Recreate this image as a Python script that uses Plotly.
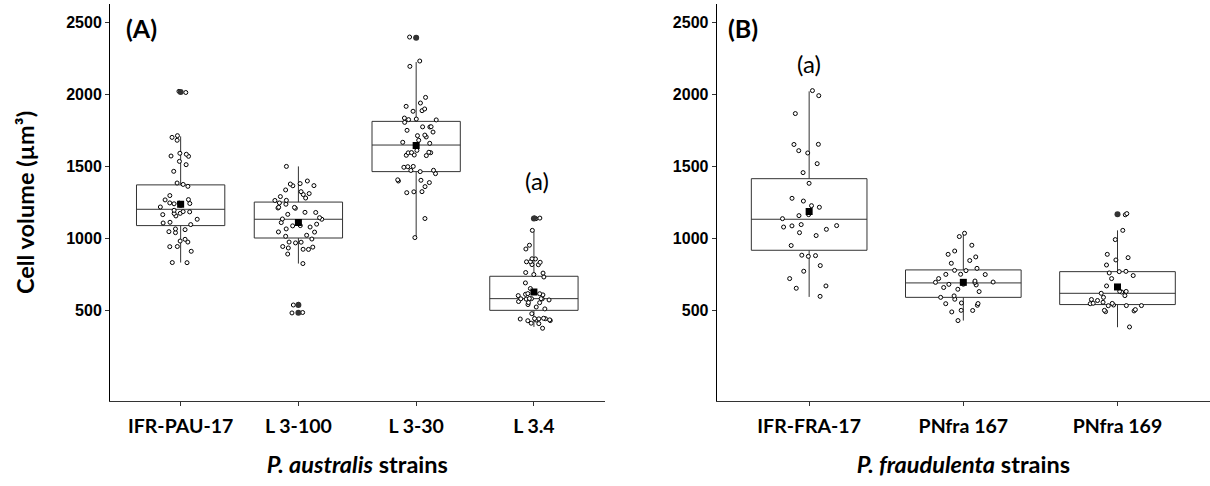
import plotly.graph_objects as go

# ---------------- data ----------------
cats_A = ["IFR-PAU-17", "L 3-100", "L 3-30", "L 3.4"]
cats_B = ["IFR-FRA-17", "PNfra 167", "PNfra 169"]

# box statistics
q1_A = [1090, 1004, 1464, 503]
med_A = [1203, 1134, 1648, 584]
q3_A = [1372, 1253, 1812, 739]
lo_A = [834, 827, 1007, 388]
hi_A = [1708, 1500, 2223, 1051]
mean_A = [1238, 1111, 1644, 630]

q1_B = [919, 593, 543]
med_B = [1134, 693, 621]
q3_B = [1415, 783, 771]
lo_B = [596, 432, 386]
hi_B = [2020, 1035, 1057]
mean_B = [1187, 697, 665]

# outliers
out_IFR_PAU_17 = [2015]
out_L3_100 = [540, 487]
out_L3_30 = [2392]
out_L3_4 = [1140]
out_IFR_FRA_17 = []
out_PNfra_167 = []
out_PNfra_169 = [1168]

# individual cells
pts_IFR_PAU_17 = [2020, 2012, 1713, 1701, 1681, 1591, 1584, 1570, 1572, 1535, 1512, 1466,
                  1385, 1375, 1362, 1298, 1270, 1268, 1247, 1243, 1246, 1241, 1230, 1219,
                  1196, 1187, 1185, 1175, 1174, 1166, 1157, 1134, 1113, 1108, 1097, 1067,
                  1062, 1048, 1041, 995, 983, 976, 945, 944, 912, 834, 833]
pts_L3_100 = [1500, 1399, 1381, 1378, 1367, 1366, 1337, 1325, 1312, 1305, 1291, 1281,
              1265, 1264, 1247, 1238, 1217, 1216, 1210, 1212, 1182, 1181, 1168, 1145,
              1136, 1134, 1111, 1100, 1090, 1088, 1080, 1067, 1046, 1045, 1023, 1016,
              997, 976, 970, 975, 945, 935, 941, 926, 925, 893, 827, 545, 540, 485, 488]
pts_L3_30 = [2396, 2392, 2230, 2193, 1978, 1939, 1916, 1898, 1886, 1882, 1835, 1828,
             1824, 1822, 1805, 1775, 1774, 1773, 1750, 1738, 1717, 1713, 1704, 1681,
             1667, 1660, 1611, 1596, 1595, 1594, 1598, 1579, 1577, 1575, 1500, 1498,
             1494, 1473, 1472, 1464, 1450, 1404, 1407, 1399, 1388, 1360, 1325, 1324,
             1318, 1139, 1007]
pts_L3_4 = [1143, 1142, 1138, 1057, 954, 928, 859, 860, 840, 839, 836, 820, 819, 765,
            761, 751, 734, 693, 654, 619, 618, 614, 610, 605, 584, 585, 583, 582, 581,
            584, 575, 564, 557, 556, 543, 526, 513, 480, 448, 446, 445, 444, 443, 436,
            437, 432, 431, 411, 414, 379]
pts_IFR_FRA_17 = [2025, 1990, 1866, 1653, 1652, 1609, 1593, 1519, 1457, 1383, 1279, 1260,
                  1228, 1217, 1166, 1159, 1138, 1097, 1090, 1088, 1080, 1064, 1041, 1021,
                  952, 882, 877, 885, 813, 774, 723, 672, 656, 600]
pts_PNfra_167 = [1037, 1014, 954, 914, 891, 873, 848, 829, 794, 780, 778, 753, 752, 751,
                 723, 706, 697, 696, 699, 683, 679, 684, 661, 649, 633, 603, 593, 580,
                 554, 550, 549, 538, 503, 502, 492, 432]
pts_PNfra_169 = [1173, 1165, 1057, 993, 891, 868, 852, 817, 773, 771, 762, 744, 723, 672,
                 635, 634, 630, 621, 605, 593, 578, 571, 559, 552, 551, 549, 540, 536,
                 536, 535, 508, 503, 499, 494, 388]

y_ticks = [500, 1000, 1500, 2000, 2500]

pts_A = [pts_IFR_PAU_17, pts_L3_100, pts_L3_30, pts_L3_4]
pts_B = [pts_IFR_FRA_17, pts_PNfra_167, pts_PNfra_169]
outs_A = [out_IFR_PAU_17, out_L3_100, out_L3_30, out_L3_4]
outs_B = [out_IFR_FRA_17, out_PNfra_167, out_PNfra_169]

# ---------------- figure ----------------
BOXC = "#333333"
fig = go.Figure()


def add_panel(cats, q1, med, q3, lo, hi, means, pts, outs, xa, ya):
    fig.add_trace(go.Box(
        x=cats, q1=q1, median=med, q3=q3, lowerfence=lo, upperfence=hi,
        boxpoints=False, width=0.75, whiskerwidth=0, fillcolor="white",
        line=dict(color=BOXC, width=1), xaxis=xa, yaxis=ya,
        showlegend=False, hoverinfo="skip"))
    xs, ys = [], []
    for c, v in zip(cats, pts):
        xs += [c] * len(v)
        ys += v
    fig.add_trace(go.Box(
        x=xs, y=ys, boxpoints="all", jitter=0.55, pointpos=0, width=0.75,
        fillcolor="rgba(0,0,0,0)", line=dict(color="rgba(0,0,0,0)", width=0),
        marker=dict(size=4, color="white", line=dict(color="black", width=1)),
        xaxis=xa, yaxis=ya, showlegend=False, hoverinfo="y"))
    ox, oy = [], []
    for c, v in zip(cats, outs):
        ox += [c] * len(v)
        oy += v
    fig.add_trace(go.Scatter(
        x=ox, y=oy, mode="markers", marker=dict(size=6, color=BOXC),
        xaxis=xa, yaxis=ya, showlegend=False))
    fig.add_trace(go.Scatter(
        x=cats, y=means, mode="markers",
        marker=dict(size=7, color="black", symbol="square"),
        xaxis=xa, yaxis=ya, showlegend=False))


add_panel(cats_A, q1_A, med_A, q3_A, lo_A, hi_A, mean_A, pts_A, outs_A, "x", "y")
add_panel(cats_B, q1_B, med_B, q3_B, lo_B, hi_B, mean_B, pts_B, outs_B, "x2", "y2")

tickfont_x = dict(family="Lato", size=19.5, color="black", weight="bold")
tickfont_y = dict(family="Liberation Sans", size=16, color="black", weight="bold")
titlefont = dict(family="Lato", size=23.5, color="black", weight="bold")

xcommon = dict(type="category", showline=True, linecolor=BOXC, linewidth=1,
               ticks="outside", ticklen=4, tickcolor=BOXC, showgrid=False,
               zeroline=False, tickfont=tickfont_x, automargin=False,
               ticklabelstandoff=4)
ycommon = dict(range=[-125, 2625], tickvals=y_ticks, showline=True, linecolor="black",
               linewidth=1, ticks="outside", ticklen=4, tickcolor=BOXC,
               showgrid=False, zeroline=False, tickfont=tickfont_y, automargin=False)

fig.update_layout(
    width=1210, height=486,
    margin=dict(l=110, r=0, t=4, b=85),
    plot_bgcolor="white", paper_bgcolor="white",
    boxmode="overlay",
    xaxis=dict(domain=[0, 0.4496], range=[-0.6, 3.6], categoryorder="array",
               categoryarray=cats_A, anchor="y",
               title=dict(text="<i>P. australis</i> strains", font=titlefont, standoff=20),
               **xcommon),
    xaxis2=dict(domain=[0.5515, 1.0], range=[-0.6, 2.6], categoryorder="array",
                categoryarray=cats_B, anchor="y2",
                title=dict(text="<i>P. fraudulenta</i> strains", font=titlefont, standoff=20),
                **xcommon),
    yaxis=dict(anchor="x", title=dict(text="Cell volume (µm³)", font=titlefont, standoff=24),
               **ycommon),
    yaxis2=dict(anchor="x2", **ycommon),
    annotations=[
        dict(text="(A)", x=-0.335, y=2456, xref="x", yref="y", showarrow=False,
             font=dict(family="Lato", size=25, color="black", weight="bold")),
        dict(text="(B)", x=-0.43, y=2456, xref="x2", yref="y2", showarrow=False,
             font=dict(family="Lato", size=25, color="black", weight="bold")),
        dict(text="(a)", x=3.03, y=1404, xref="x", yref="y", showarrow=False,
             font=dict(family="Lato", size=24, color="black")),
        dict(text="(a)", x=0, y=2214, xref="x2", yref="y2", showarrow=False,
             font=dict(family="Lato", size=24, color="black")),
    ],
)

fig.write_html("out.html")
